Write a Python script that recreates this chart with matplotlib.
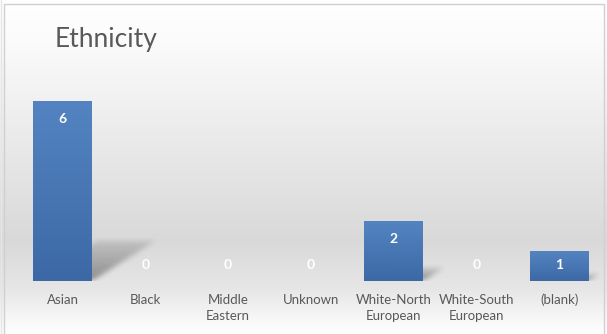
import numpy as np
import matplotlib.pyplot as plt
from matplotlib.path import Path
from matplotlib.colors import to_rgb

categories = ["Asian", "Black", "Middle\nEastern", "Unknown",
              "White-North\nEuropean", "White-South\nEuropean", "(blank)"]
counts = [6, 0, 0, 0, 2, 0, 1]
title = "Ethnicity"

W, H = 607, 334
plt.rcParams['font.family'] = ['Lato', 'DejaVu Sans']

fig = plt.figure(figsize=(W / 100, H / 100), dpi=100)

# chart area background: white -> grey -> white vertical gradient
bg = fig.add_axes([0, 0, 1, 1], zorder=-10)
yy = np.linspace(0, 1, 400)
stops_y = [0.0, 0.12, 0.72, 0.86, 1.0]
stops_v = [1.0, 0.985, 0.85, 0.90, 1.0]
shade = np.interp(yy, stops_y, stops_v)
grad = np.repeat(shade[:, None], 2, axis=1)
bg.imshow(np.dstack([grad, grad, grad]), extent=[0, 1, 0, 1], aspect='auto',
          origin='upper', interpolation='bilinear')
# chart border
bg.plot([4 / W, 4 / W, 604 / W, 604 / W], [0, 1 - 4 / H, 1 - 4 / H, 0],
        color='#d0d0d0', lw=1)
bg.plot([1 / W, 1 / W], [0, 1], color='#e6e6e6', lw=1)
bg.set_xlim(0, 1)
bg.set_ylim(0, 1)
bg.axis('off')

# plot area
left_px, right_px, base_px, top_px = 21.1, 600.9, 281, 89
ax = fig.add_axes([left_px / W, (H - base_px) / H,
                   (right_px - left_px) / W, (base_px - top_px) / H])
ax.set_facecolor('none')
ymax = 6.4

x = np.arange(len(categories))
bw = 0.71
bars = ax.bar(x, counts, width=bw, zorder=3)

# bar gradient fill
top_c = np.array(to_rgb('#5384c1'))
bot_c = np.array(to_rgb('#3c69a5'))
t = np.linspace(0, 1, 100)[:, None]
bar_grad = (top_c * (1 - t) + bot_c * t)[:, None, :]
for rect in bars:
    if rect.get_height() <= 0:
        rect.set_visible(False)
        continue
    rect.set_facecolor('none')
    rect.set_edgecolor('none')
    x0, y0 = rect.get_x(), rect.get_y()
    im = ax.imshow(bar_grad, extent=[x0, x0 + rect.get_width(), y0, y0 + rect.get_height()],
                   aspect='auto', origin='upper', zorder=3, interpolation='bilinear')
    im.set_clip_path(rect)

# perspective drop shadows cast up and to the right
px_per_x = (right_px - left_px) / len(categories)
px_per_y = (base_px - top_px) / ymax
sx0, sx1, sy0, sy1 = -0.5, len(categories) - 0.5, 0.0, 2.2
nx = int(round((sx1 - sx0) * px_per_x))
ny = int(round((sy1 - sy0) * px_per_y))
gx = sx0 + (np.arange(nx) + 0.5) / px_per_x
gy = sy0 + (np.arange(ny) + 0.5) / px_per_y
GX, GY = np.meshgrid(gx, gy)
pts = np.column_stack([GX.ravel(), GY.ravel()])
alpha = np.zeros(GX.shape)
for xi, h in zip(x, counts):
    if h <= 0:
        continue
    dx = 0.35 * h * px_per_y / px_per_x
    dy = 0.22 * h
    a, b = xi - bw / 2, xi + bw / 2
    poly = Path([(a, 0), (b, 0), (b + dx, dy), (a + dx, dy), (a, 0)])
    inside = poly.contains_points(pts).reshape(GX.shape)
    fade = np.clip(1 - 0.7 * GY / dy, 0, 1)
    alpha = np.maximum(alpha, inside * fade)

kern = np.ones(5) / 5
for _ in range(3):
    alpha = np.apply_along_axis(lambda r: np.convolve(r, kern, mode='same'), 1, alpha)
    alpha = np.apply_along_axis(lambda c: np.convolve(c, kern, mode='same'), 0, alpha)
shadow = np.zeros((ny, nx, 4))
shadow[..., 3] = 0.38 * alpha
ax.imshow(shadow, extent=[sx0, sx1, sy0, sy1], aspect='auto', origin='lower',
          zorder=2, interpolation='bilinear')
ax.set_xlim(-0.5, len(categories) - 0.5)
ax.set_ylim(0, ymax)

# value labels
for xi, h in zip(x, counts):
    ly = max(h - 18 / px_per_y, 16 / px_per_y)
    ax.text(xi, ly, str(h), ha='center', va='center', color='white',
            fontsize=10, fontweight='bold', zorder=5)

ax.set_xticks(x)
ax.set_xticklabels(categories, fontsize=9.5, color='#595959', linespacing=1.45)
ax.tick_params(axis='x', length=0, pad=9)
ax.set_yticks([])
for s in ax.spines.values():
    s.set_visible(False)

fig.text(55 / W, 1 - 40 / H, title, fontsize=19, color='#595959',
         ha='left', va='center')

fig.savefig('out.png', dpi=100)
